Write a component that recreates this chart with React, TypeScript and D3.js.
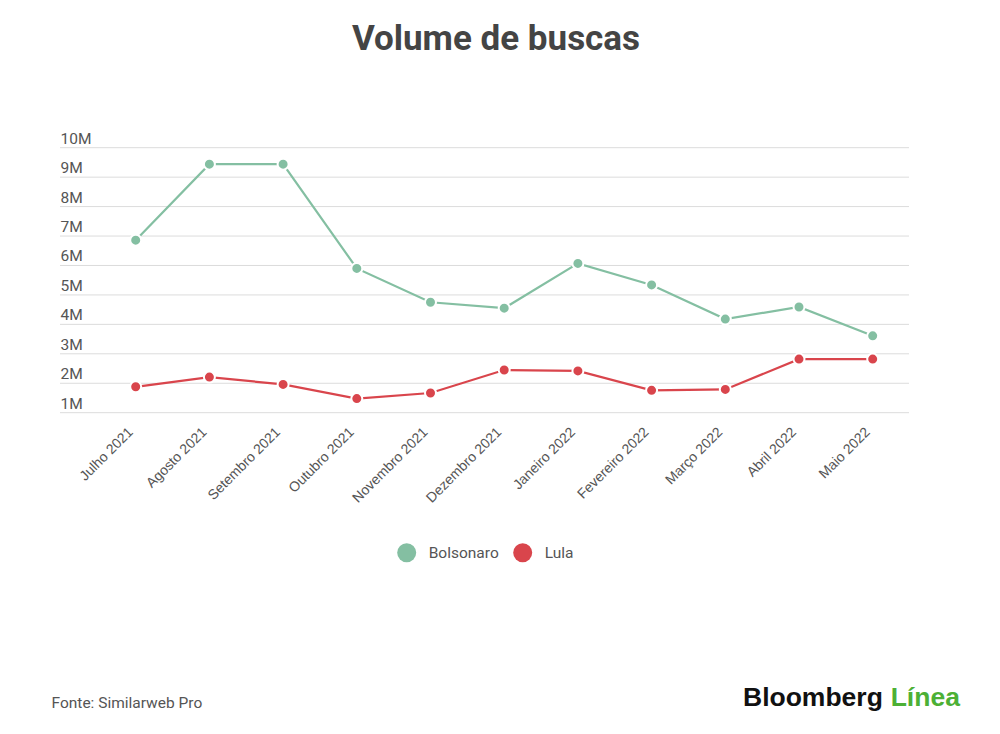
import React, { useEffect, useRef } from 'react';
import * as d3 from 'd3';

const months = [
  'Julho 2021', 'Agosto 2021', 'Setembro 2021', 'Outubro 2021', 'Novembro 2021',
  'Dezembro 2021', 'Janeiro 2022', 'Fevereiro 2022', 'Março 2022', 'Abril 2022', 'Maio 2022'
];
// values in millions
const bolsonaro = [6.86, 9.44, 9.44, 5.9, 4.75, 4.55, 6.07, 5.34, 4.18, 4.59, 3.61];
const lula = [1.88, 2.21, 1.96, 1.48, 1.67, 2.45, 2.42, 1.76, 1.79, 2.82, 2.82];
const yTicks = [1, 2, 3, 4, 5, 6, 7, 8, 9, 10];

const series = [
  { name: 'Bolsonaro', values: bolsonaro, color: '#84bfa2' },
  { name: 'Lula', values: lula, color: '#d9454c' }
];

const FONT = 'Roboto, "Noto Sans", sans-serif';
const ARIAL = '"Liberation Sans", Arial, sans-serif';

export default function App() {
  const svgRef = useRef<SVGSVGElement>(null);

  useEffect(() => {
    if (!svgRef.current) return;
    const svg = d3.select(svgRef.current);
    svg.selectAll('*').remove();

    const gridLeft = 60;
    const gridRight = 909;

    const x = d3.scalePoint<string>().domain(months).range([135.7, 872.7]);
    const y = d3.scaleLinear().domain([1, 10]).range([412.7, 147.7]);

    svg.append('rect').attr('width', 1000).attr('height', 734).attr('fill', '#fff');

    // Title
    svg.append('text')
      .attr('x', 496).attr('y', 50)
      .attr('text-anchor', 'middle')
      .attr('font-family', FONT)
      .attr('font-weight', 700)
      .attr('font-size', 35)
      .attr('fill', '#444')
      .text('Volume de buscas');

    // Gridlines + y labels
    const grid = svg.append('g');
    grid.selectAll('line')
      .data(yTicks)
      .enter().append('line')
      .attr('x1', gridLeft).attr('x2', gridRight)
      .attr('y1', d => y(d)).attr('y2', d => y(d))
      .attr('stroke', '#dcdcdc')
      .attr('stroke-width', 1);
    grid.selectAll('text')
      .data(yTicks)
      .enter().append('text')
      .attr('x', 60.5)
      .attr('y', d => y(d) - 4)
      .attr('font-family', FONT)
      .attr('font-size', 15.5)
      .attr('fill', '#555')
      .text(d => `${d}M`);

    // X labels
    svg.append('g').selectAll('text')
      .data(months)
      .enter().append('text')
      .attr('transform', d => `translate(${(x(d) as number) - 2},${433}) rotate(-45)`)
      .attr('text-anchor', 'end')
      .attr('font-family', ARIAL)
      .attr('font-size', 14)
      .attr('fill', '#555')
      .text(d => d);

    // Lines
    const line = d3.line<number>()
      .x((_, i) => x(months[i]) as number)
      .y(d => y(d));

    series.forEach(s => {
      svg.append('path')
        .datum(s.values)
        .attr('d', line)
        .attr('fill', 'none')
        .attr('stroke', s.color)
        .attr('stroke-width', 2.2);
    });
    series.forEach(s => {
      svg.append('g').selectAll('circle')
        .data(s.values)
        .enter().append('circle')
        .attr('cx', (_, i) => x(months[i]) as number)
        .attr('cy', d => y(d))
        .attr('r', 5.5)
        .attr('fill', s.color)
        .attr('stroke', '#fff')
        .attr('stroke-width', 2);
    });

    // Legend
    const legend = svg.append('g');
    const legendX = [406.7, 522.7];
    series.forEach((s, i) => {
      legend.append('circle')
        .attr('cx', legendX[i]).attr('cy', 552.7)
        .attr('r', 9.5)
        .attr('fill', s.color);
      legend.append('text')
        .attr('x', legendX[i] + 22).attr('y', 557.5)
        .attr('font-family', FONT)
        .attr('font-size', 15.5)
        .attr('fill', '#555')
        .text(s.name);
    });

    // Footer
    svg.append('text')
      .attr('x', 51.5).attr('y', 708.3)
      .attr('font-family', FONT)
      .attr('font-size', 15.5)
      .attr('fill', '#555')
      .text('Fonte: Similarweb Pro');

    svg.append('text')
      .attr('x', 743).attr('y', 706)
      .attr('font-family', ARIAL)
      .attr('font-weight', 700)
      .attr('font-size', 26.5)
      .attr('fill', '#111')
      .text('Bloomberg');
    svg.append('text')
      .attr('x', 890.7).attr('y', 706)
      .attr('font-family', ARIAL)
      .attr('font-weight', 700)
      .attr('font-size', 26.5)
      .attr('fill', '#4cb035')
      .text('Línea');
  }, []);

  return (
    <svg
      ref={svgRef}
      width={1000}
      height={734}
      style={{ position: 'absolute', left: 0, top: 0, display: 'block' }}
    />
  );
}
